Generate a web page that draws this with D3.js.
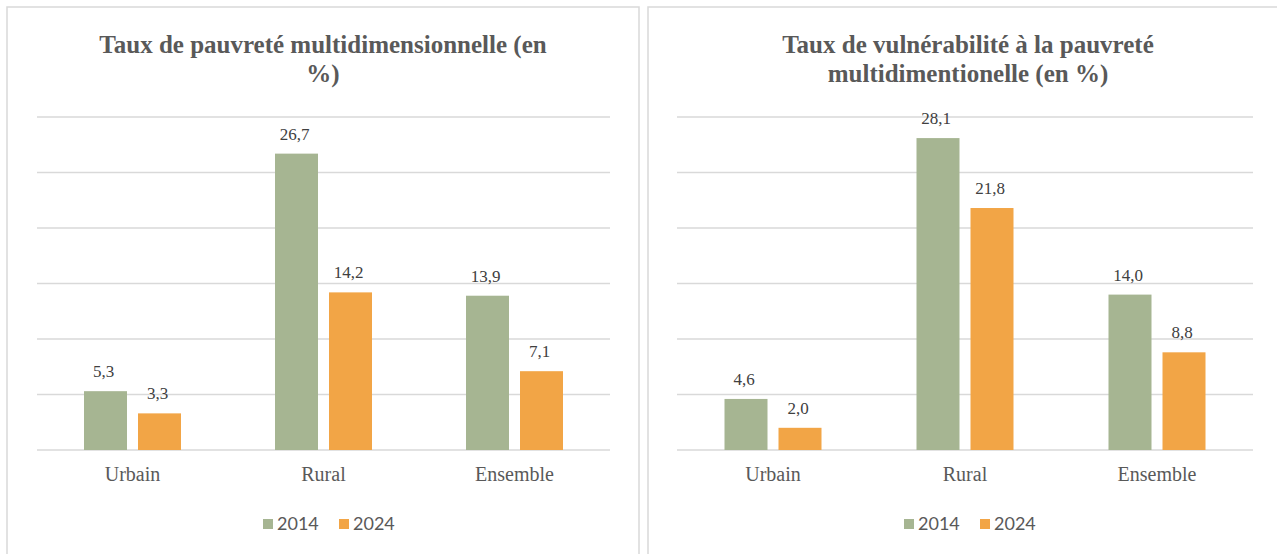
<!DOCTYPE html>
<html lang="fr">
<head>
<meta charset="UTF-8">
<title>Pauvreté multidimensionnelle</title>
<script src="https://d3js.org/d3.v7.min.js"></script>
<style>
  body { margin: 0; background: #fff; }
  text { font-family: "Liberation Serif", "DejaVu Serif", "Times New Roman", Times, serif; }
  .title { font-weight: bold; font-size: 25px; fill: #595959; }
  .val { font-size: 17px; fill: #404040; }
  .cat { font-size: 20px; fill: #595959; }
  .leg { font-family: Lato, "Liberation Sans", sans-serif; font-size: 18px; fill: #595959; }
  .grid line { stroke: #d9d9d9; stroke-width: 1.5; }
</style>
</head>
<body>
<script>
const categories = ["Urbain", "Rural", "Ensemble"];
const years = ["2014", "2024"];
const povertyValues = [[5.3, 26.7, 13.9], [3.3, 14.2, 7.1]];
const vulnValues = [[4.6, 28.1, 14.0], [2.0, 21.8, 8.8]];
const yTicks = [0, 5, 10, 15, 20, 25, 30];
const colors = ["#a6b592", "#f2a546"];

const svg = d3.select("body").append("svg")
  .attr("width", 1277).attr("height", 554);

const fmt = v => d3.format(".1f")(v).replace(".", ",");

function drawPanel(opt) {
  const g = svg.append("g");
  g.append("rect")
    .attr("x", opt.px).attr("y", 7).attr("width", opt.pw).attr("height", 552)
    .attr("fill", "#fff").attr("stroke", "#d9d9d9").attr("stroke-width", 1.5);

  g.selectAll("text.title").data(opt.title).enter().append("text")
    .attr("class", "title")
    .attr("x", opt.px + opt.pw / 2)
    .attr("y", (d, i) => 53 + i * 29)
    .attr("text-anchor", "middle")
    .text(d => d);

  const x = d3.scaleBand().domain(categories).range([opt.x0, opt.x1]);
  const y = d3.scaleLinear().domain([0, 30]).range([450, 117]);

  g.append("g").attr("class", "grid")
    .selectAll("line").data(yTicks).enter().append("line")
    .attr("x1", opt.x0).attr("x2", opt.x1)
    .attr("y1", d => y(d)).attr("y2", d => y(d));

  const bw = 43, gap = 11;
  years.forEach((yr, s) => {
    const off = s === 0 ? -(bw + gap / 2) : gap / 2;
    const cx = c => x(c) + x.bandwidth() / 2 + off;
    g.selectAll("rect.s" + s).data(categories).enter().append("rect")
      .attr("x", c => cx(c))
      .attr("y", (c, i) => y(opt.values[s][i]))
      .attr("width", bw)
      .attr("height", (c, i) => y(0) - y(opt.values[s][i]))
      .attr("fill", colors[s]);
    g.selectAll("text.v" + s).data(categories).enter().append("text")
      .attr("class", "val")
      .attr("x", c => cx(c) + bw / 2 - 2)
      .attr("y", (c, i) => y(opt.values[s][i]) - 14)
      .attr("text-anchor", "middle")
      .text((c, i) => fmt(opt.values[s][i]));
  });

  g.selectAll("text.cat").data(categories).enter().append("text")
    .attr("class", "cat")
    .attr("x", c => x(c) + x.bandwidth() / 2)
    .attr("y", 481)
    .attr("text-anchor", "middle")
    .text(c => c);

  const lx = opt.legX;
  years.forEach((yr, s) => {
    const gx = lx + s * 76;
    g.append("rect").attr("x", gx).attr("y", 519).attr("width", 10).attr("height", 10)
      .attr("fill", colors[s]);
    g.append("text").attr("class", "leg").attr("x", gx + 14).attr("y", 530).text(yr);
  });
}

drawPanel({
  px: 7, pw: 632, x0: 37, x1: 610, legX: 263,
  title: ["Taux de pauvreté multidimensionnelle (en", "%)"],
  values: povertyValues
});
drawPanel({
  px: 648, pw: 640, x0: 677, x1: 1253, legX: 904,
  title: ["Taux de vulnérabilité à la pauvreté", "multidimentionelle (en %)"],
  values: vulnValues
});
</script>
</body>
</html>
